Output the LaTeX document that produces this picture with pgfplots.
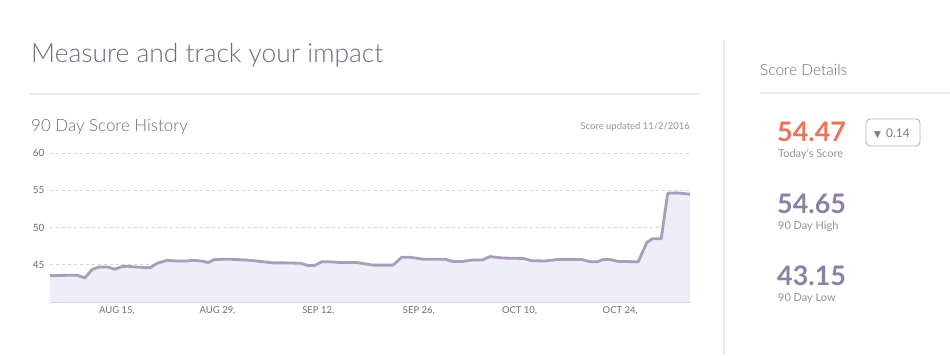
\documentclass[border=0pt]{standalone}
\usepackage{fontspec}
\usepackage{pgfplots}
\pgfplotsset{compat=1.18}
\setmainfont{Lato}
\IfFontExistsTF{Lato Light}{\newfontfamily\lightfont{Lato Light}}{\newfontfamily\lightfont{Lato}}
\newfontfamily\symfont{DejaVu Sans}
\definecolor{titlegray}{RGB}{112,106,124}
\definecolor{ticktxt}{RGB}{112,106,124}
\definecolor{rulec}{RGB}{234,232,242}
\definecolor{gridc}{RGB}{212,208,222}
\definecolor{linec}{RGB}{168,158,188}
\definecolor{fillc}{RGB}{239,237,248}
\definecolor{scoreorange}{RGB}{232,116,90}
\definecolor{scorepurple}{RGB}{140,128,166}
\definecolor{smallgray}{RGB}{150,145,160}
\definecolor{boxc}{RGB}{182,176,192}
\definecolor{boxtxt}{RGB}{125,119,138}
\begin{document}
\begin{tikzpicture}[x=1bp,y=1bp]
\path[use as bounding box, fill=white] (0,0) rectangle (950,-355);
% rules
\draw[rulec, line width=1.5bp] (30,-94) -- (700,-94);
\draw[rulec, line width=1.5bp] (724,-40) -- (724,-355);
\draw[rulec, line width=1.5bp] (760,-93) -- (950,-93);
% titles
\node[anchor=base west, inner sep=0, text=titlegray, font=\lightfont\fontsize{26.5}{30}\selectfont] at (31,-62) {Measure and track your impact};
\node[anchor=base west, inner sep=0, text=titlegray, font=\lightfont\fontsize{17}{20}\selectfont] at (31,-131) {90 Day Score History};
\node[anchor=base east, inner sep=0, text=smallgray, font=\fontsize{9.5}{11}\selectfont] at (690,-129.5) {Score updated 11/2/2016};
\node[anchor=base west, inner sep=0, text=titlegray, font=\lightfont\fontsize{15.5}{18}\selectfont] at (760,-75) {Score Details};
% score details
\node[anchor=base west, inner sep=0, text=scoreorange, font=\bfseries\fontsize{27}{30}\selectfont] at (777,-141) {54.47};
\node[anchor=base west, inner sep=0, text=smallgray, font=\fontsize{11}{13}\selectfont] at (778,-157) {Today's Score};
\draw[boxc, line width=0.9bp, rounded corners=4bp] (866,-119) rectangle (920,-146);
\node[anchor=base, inner sep=0, text=boxtxt, font=\symfont\fontsize{9}{11}\selectfont] at (877.5,-137) {▼};
\node[anchor=base west, inner sep=0, text=boxtxt, font=\fontsize{12}{14}\selectfont] at (886,-137.5) {0.14};
\node[anchor=base west, inner sep=0, text=scorepurple, font=\bfseries\fontsize{27}{30}\selectfont] at (777,-213) {54.65};
\node[anchor=base west, inner sep=0, text=smallgray, font=\fontsize{11}{13}\selectfont] at (778,-229) {90 Day High};
\node[anchor=base west, inner sep=0, text=scorepurple, font=\bfseries\fontsize{27}{30}\selectfont] at (777,-285) {43.15};
\node[anchor=base west, inner sep=0, text=smallgray, font=\fontsize{11}{13}\selectfont] at (778,-301) {90 Day Low};
\begin{axis}[
  at={(50bp,-302bp)}, anchor=south west,
  scale only axis, width=640bp, height=149bp,
  xmin=-9.3, xmax=79.7, ymin=40, ymax=60,
  axis x line*=bottom, axis y line*=left,
  x axis line style={color=gridc, line width=1bp, -},
  y axis line style={draw=none},
  tick style={draw=none},
  ytick={45,50,55,60}, yticklabels={45,50,55,60},
  xtick={0,14,28,42,56,70},
  xticklabels={{AUG 15,}, {AUG 29,}, {SEP 12,}, {SEP 26,}, {OCT 10,}, {OCT 24,}},
  ymajorgrids, major grid style={gridc, dash pattern=on 3bp off 3bp, line width=0.7bp},
  yticklabel style={text=ticktxt, font=\fontsize{10}{12}\selectfont, xshift=-2bp},
  xticklabel style={text=ticktxt, font=\fontsize{9.5}{11}\selectfont, yshift=-1.5bp},
  clip=false,
]
\addplot[fill=fillc, draw=none] coordinates {
(-9.3,43.55)(-5.6,43.6)(-4.45,43.25)(-3.4,44.4)(-2.4,44.7)(-1.25,44.7)(-0.3,44.4)(0.7,44.75)(1.5,44.8)(2.5,44.7)(4.6,44.6)(5.6,45.2)(7.0,45.6)(8.3,45.5)(9.7,45.5)(10.6,45.6)(11.8,45.5)(12.7,45.3)(13.6,45.7)(15.4,45.75)(16.8,45.7)(18.5,45.6)(19.9,45.45)(21.7,45.25)(23.6,45.25)(25.5,45.2)(26.6,44.9)(27.5,44.9)(28.5,45.4)(29.6,45.4)(31.0,45.3)(33.4,45.3)(35.6,44.95)(38.4,44.95)(39.6,46.0)(40.8,46.0)(42.6,45.75)(45.6,45.75)(46.7,45.45)(48.1,45.45)(49.5,45.65)(50.8,45.65)(51.9,46.1)(53.7,45.9)(56.5,45.85)(57.7,45.55)(59.5,45.5)(61.2,45.7)(64.7,45.7)(65.8,45.4)(66.8,45.4)(67.6,45.7)(68.6,45.7)(69.7,45.45)(72.5,45.4)(73.7,48.0)(74.5,48.5)(75.7,48.5)(76.6,54.6)(77.9,54.65)(79.7,54.47)
(79.7,40)(-9.3,40)} -- cycle;
\addplot[linec, line width=2.8bp, line join=round] coordinates {
(-9.3,43.55)(-5.6,43.6)(-4.45,43.25)(-3.4,44.4)(-2.4,44.7)(-1.25,44.7)(-0.3,44.4)(0.7,44.75)(1.5,44.8)(2.5,44.7)(4.6,44.6)(5.6,45.2)(7.0,45.6)(8.3,45.5)(9.7,45.5)(10.6,45.6)(11.8,45.5)(12.7,45.3)(13.6,45.7)(15.4,45.75)(16.8,45.7)(18.5,45.6)(19.9,45.45)(21.7,45.25)(23.6,45.25)(25.5,45.2)(26.6,44.9)(27.5,44.9)(28.5,45.4)(29.6,45.4)(31.0,45.3)(33.4,45.3)(35.6,44.95)(38.4,44.95)(39.6,46.0)(40.8,46.0)(42.6,45.75)(45.6,45.75)(46.7,45.45)(48.1,45.45)(49.5,45.65)(50.8,45.65)(51.9,46.1)(53.7,45.9)(56.5,45.85)(57.7,45.55)(59.5,45.5)(61.2,45.7)(64.7,45.7)(65.8,45.4)(66.8,45.4)(67.6,45.7)(68.6,45.7)(69.7,45.45)(72.5,45.4)(73.7,48.0)(74.5,48.5)(75.7,48.5)(76.6,54.6)(77.9,54.65)(79.7,54.47)};
\end{axis}
\end{tikzpicture}
\end{document}
